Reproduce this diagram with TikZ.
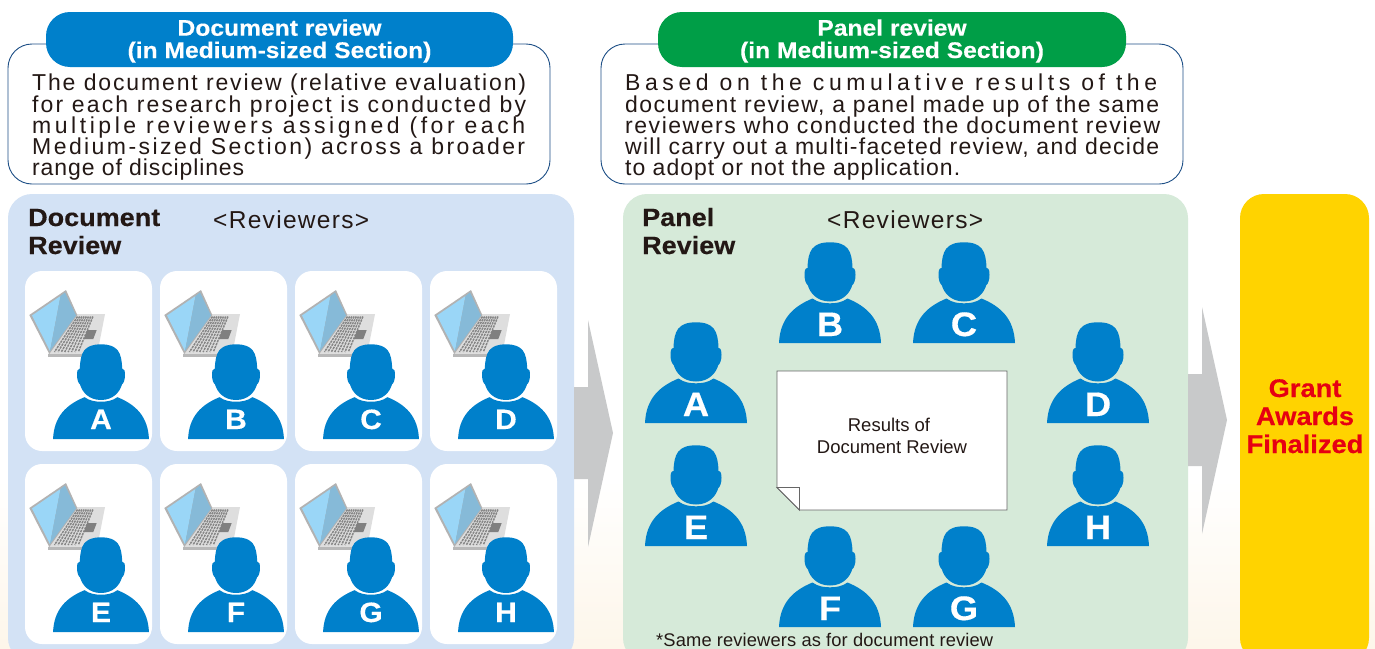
\documentclass[tikz,border=0pt]{standalone}
\usepackage{fontspec}
\usepackage{xstring}
\setmainfont{Liberation Sans}
\definecolor{ink}{HTML}{231815}
\definecolor{pblue}{HTML}{0080CB}
\definecolor{pgreen}{HTML}{009E47}
\definecolor{edgeblue}{HTML}{1D4F86}
\definecolor{panelblue}{HTML}{D3E2F5}
\definecolor{panelgreen}{HTML}{D6EAD9}
\definecolor{gold}{HTML}{FFD300}
\definecolor{awardred}{HTML}{E60012}
\definecolor{arrowgray}{HTML}{C8C9CA}
\definecolor{cream}{HTML}{FDF6EA}
\definecolor{screena}{HTML}{9AD6F7}
\definecolor{screenb}{HTML}{86BAD8}
\newcommand\fsize[1]{\fontsize{#1}{#1}\selectfont}
\newcommand\heavy[1]{\bfseries\addfontfeature{FakeStretch=#1,FakeBold=0.35}}
% apply a tracking of #1 pt at font size #2
\newcommand\applytrack[2]{%
  \pgfmathsetmacro\mypct{100*#1/#2}%
  \pgfmathsetmacro\myspace{0.278*#2+#1}%
  \addfontfeature{LetterSpace=\mypct}\spaceskip=\myspace pt\relax}
% set a line to a given width: first a trial, then a tracking corrected by the trial's result
\newcommand\fitline[3]{%
  \fsize{#2}%
  \setbox0=\hbox{#3}%
  \StrLen{#3}[\mylen]%
  \pgfmathsetmacro\trackA{(#1-\the\wd0/1pt)/\mylen}%
  \setbox2=\hbox{\applytrack{\trackA}{#2}#3}%
  \pgfmathsetmacro\trackB{\trackA*(#1-\the\wd0/1pt)/((\the\wd2-\the\wd0)/1pt)}%
  \applytrack{\trackB}{#2}#3}
\tikzset{
  x=1pt,y=-1pt,
  bodyline/.style={anchor=base west,inner sep=0pt,text=ink},
  headline/.style={anchor=base,inner sep=0pt,text=white,font=\fsize{22.6}\heavy{1.09}},
  bubble/.style={draw=edgeblue,line width=0.9pt,fill=white,rounded corners=24pt},
  pill/.style={rounded corners=24pt},
  panel/.style={rounded corners=24pt},
  card/.style={fill=white,rounded corners=17pt},
  bigarrow/.style={fill=arrowgray},
  paneltitle/.style={anchor=base west,inner sep=0pt,text=ink,font=\fsize{25}\heavy{1.08}},
  awardline/.style={anchor=base,inner sep=0pt,text=awardred,font=\fsize{25.5}\heavy{1.07}},
}
% #1 cx, #2 bottom, #3 scale, #4 letter font size, #5 letter rise, #6 letter, #7 name
\newcommand\person[7]{%
  \begin{scope}[shift={(#1,#2)},scale=#3]
    \fill[pblue] (-51,0) .. controls (-50,-24) and (-37,-36.5) .. (-17.5,-44.5)
      .. controls (-12,-40.5) and (-6,-39.7) .. (0,-39.7)
      .. controls (6,-39.7) and (12,-40.5) .. (17.5,-44.5)
      .. controls (37,-36.5) and (50,-24) .. (51,0) -- cycle;
    \fill[pblue] (0,-100.7) .. controls (18,-100.7) and (22,-92) .. (22.5,-75)
      .. controls (25,-75) and (25.5,-72) .. (25.5,-68)
      .. controls (25.5,-63) and (24,-59) .. (22.3,-58)
      .. controls (20,-50) and (13,-41.5) .. (0,-41.5)
      .. controls (-13,-41.5) and (-20,-50) .. (-22.3,-58)
      .. controls (-24,-59) and (-25.5,-63) .. (-25.5,-68)
      .. controls (-25.5,-72) and (-25,-75) .. (-22.5,-75)
      .. controls (-22,-92) and (-18,-100.7) .. (0,-100.7) -- cycle;
  \end{scope}
  \node[anchor=base,inner sep=0pt,text=white,font=\fsize{#4}\heavy{1.07}] (#7) at (#1,#2-#5) {#6};%
}
% laptop drawn in the coordinates of the first card, shifted by #1,#2
\newcommand\laptop[2]{%
  \begin{scope}[shift={(#1,#2)}]
    \fill[black!13] (76.7,314) -- (105,314) -- (96.7,356.7) -- (48.3,356.7) -- (48.3,354) -- cycle;
    \fill[black!28] (48.3,354) -- (96.7,354) -- (96.7,356.7) -- (48.3,356.7) -- cycle;
    \fill[black!30] (29.3,315) -- (66,290) -- (77.3,315) -- (49.3,354) -- cycle;
    \fill[screena] (32,315.5) -- (60.5,296) -- (50,351) -- cycle;
    \fill[screenb] (60.5,296) -- (65,292.5) -- (76,315.5) -- (50,351) -- cycle;
    \foreach \i in {0,...,7}
      \draw[black!48,line width=1.5pt,dash pattern=on 2.3pt off 0.9pt]
        ({77.5+\i*2.2},316.5) -- ({54.5+\i*3.4},352);
    \fill[black!50] (87.3,330) -- (96.7,330) -- (93.3,339) -- (84,339) -- cycle;
  \end{scope}%
}
\begin{document}
\begin{tikzpicture}
\useasboundingbox (0,0) rectangle (1375,648);
\clip (0,0) rectangle (1375,648);
\fill[white] (0,0) rectangle (1375,648);
\shade[top color=white,bottom color=cream] (0,480) rectangle (1375,648);

% top bubbles
\draw[bubble] (8,44) rectangle (550,184);
\fill[pblue,pill] (46,12) rectangle (513,67);
\node[headline] (h1a) at (279.5,35.7) {Document review};
\node[headline] (h1b) at (279.5,58) {(in Medium-sized Section)};
\node[bodyline] (l1) at (32,90) {\fitline{494}{23}{The document review (relative evaluation)}};
\node[bodyline] (l2) at (32,112) {\fitline{494}{23}{for each research project is conducted by}};
\node[bodyline] (l3) at (32,133) {\fitline{493}{23}{multiple reviewers assigned (for each}};
\node[bodyline] (l4) at (32,154.5) {\fitline{493}{23}{Medium-sized Section) across a broader}};
\node[bodyline] (l5) at (32,175.5) {\fitline{212}{23}{range of disciplines}};

\draw[bubble] (601,44) rectangle (1183,184);
\fill[pgreen,pill] (658,12) rectangle (1126,67);
\node[headline] (h2a) at (892,35.7) {Panel review};
\node[headline] (h2b) at (892,58) {(in Medium-sized Section)};
\node[bodyline] (r1) at (625,90) {\fitline{532}{23}{Based on the cumulative results of the}};
\node[bodyline] (r2) at (625,112) {\fitline{534}{23}{document review, a panel made up of the same}};
\node[bodyline] (r3) at (625,133) {\fitline{535}{23}{reviewers who conducted the document review}};
\node[bodyline] (r4) at (625,154.5) {\fitline{534}{23}{will carry out a multi-faceted review, and decide}};
\node[bodyline] (r5) at (625,175.5) {\fitline{335}{23}{to adopt or not the application.}};

% panels
\fill[panelblue,panel] (8,194) rectangle (574,662);
\fill[panelgreen,panel] (623,194) rectangle (1188,662);
\fill[gold,panel] (1240,194) rectangle (1369,662);

% arrows
\fill[bigarrow] (574,387) -- (588,387) -- (588,320) -- (613,433) -- (588,547) -- (588,479) -- (574,479) -- cycle;
\fill[bigarrow] (1188,374) -- (1202,374) -- (1202,307) -- (1227,420) -- (1202,534) -- (1202,466) -- (1188,466) -- cycle;

% left panel
\node[paneltitle] (dt1) at (28,226) {Document};
\node[paneltitle] (dt2) at (28,254) {Review};
\node[anchor=base west,inner sep=0pt,text=ink] (rv1) at (213,228) {\fitline{156}{24.5}{<Reviewers>}};

\foreach \cx/\cy in {25/271,160/271,295/271,430/271,25/464,160/464,295/464,430/464}
  \fill[card] (\cx,\cy) rectangle (\cx+127,\cy+180);
\foreach \dx/\dy in {0/0,135/0,270/0,405/0,0/193,135/193,270/193,405/193}
  \laptop{\dx}{\dy};
\person{101}{439}{0.94}{28}{10}{A}{da}
\person{236}{439}{0.94}{28}{10}{B}{db}
\person{371}{439}{0.94}{28}{10}{C}{dc}
\person{506}{439}{0.94}{28}{10}{D}{dd}
\person{101}{632}{0.94}{28}{10}{E}{de}
\person{236}{632}{0.94}{28}{10}{F}{df}
\person{371}{632}{0.94}{28}{10}{G}{dg}
\person{506}{632}{0.94}{28}{10}{H}{dh}

% right panel
\node[paneltitle] (pt1) at (642,226) {Panel};
\node[paneltitle] (pt2) at (642,254) {Review};
\node[anchor=base west,inner sep=0pt,text=ink] (rv2) at (827,228) {\fitline{156}{24.5}{<Reviewers>}};
\person{696}{423}{1}{34}{7}{A}{pa}
\person{830}{343}{1}{34}{7}{B}{pb}
\person{964}{343}{1}{34}{7}{C}{pc}
\person{1098}{423}{1}{34}{7}{D}{pd}
\person{696}{546}{1}{34}{7}{E}{pe}
\person{830}{627}{1}{34}{7}{F}{pf}
\person{964}{627}{1}{34}{7}{G}{pg}
\person{1098}{546}{1}{34}{7}{H}{ph}

% results sheet
\draw[black!60,line width=0.9pt,fill=white] (777,371) -- (1007,371) -- (1007,510) -- (799.5,510) -- (777,487.5) -- cycle;
\draw[black!60,line width=0.9pt,fill=white] (777,487.5) -- (799.5,487.5) -- (799.5,510) -- cycle;
\node[anchor=base,inner sep=0pt,text=ink,font=\fsize{18.5}] (res1) at (889,431) {Results of};
\node[anchor=base,inner sep=0pt,text=ink,font=\fsize{18.5}] (res2) at (892,453) {Document Review};
\node[anchor=base west,inner sep=0pt,text=ink] (foot) at (656,646.7) {\fitline{337}{18.3}{*Same reviewers as for document review}};

% award
\node[awardline] (g1) at (1305,397) {Grant};
\node[awardline] (g2) at (1305,425) {Awards};
\node[awardline] (g3) at (1305,453) {Finalized};
\end{tikzpicture}
\end{document}
